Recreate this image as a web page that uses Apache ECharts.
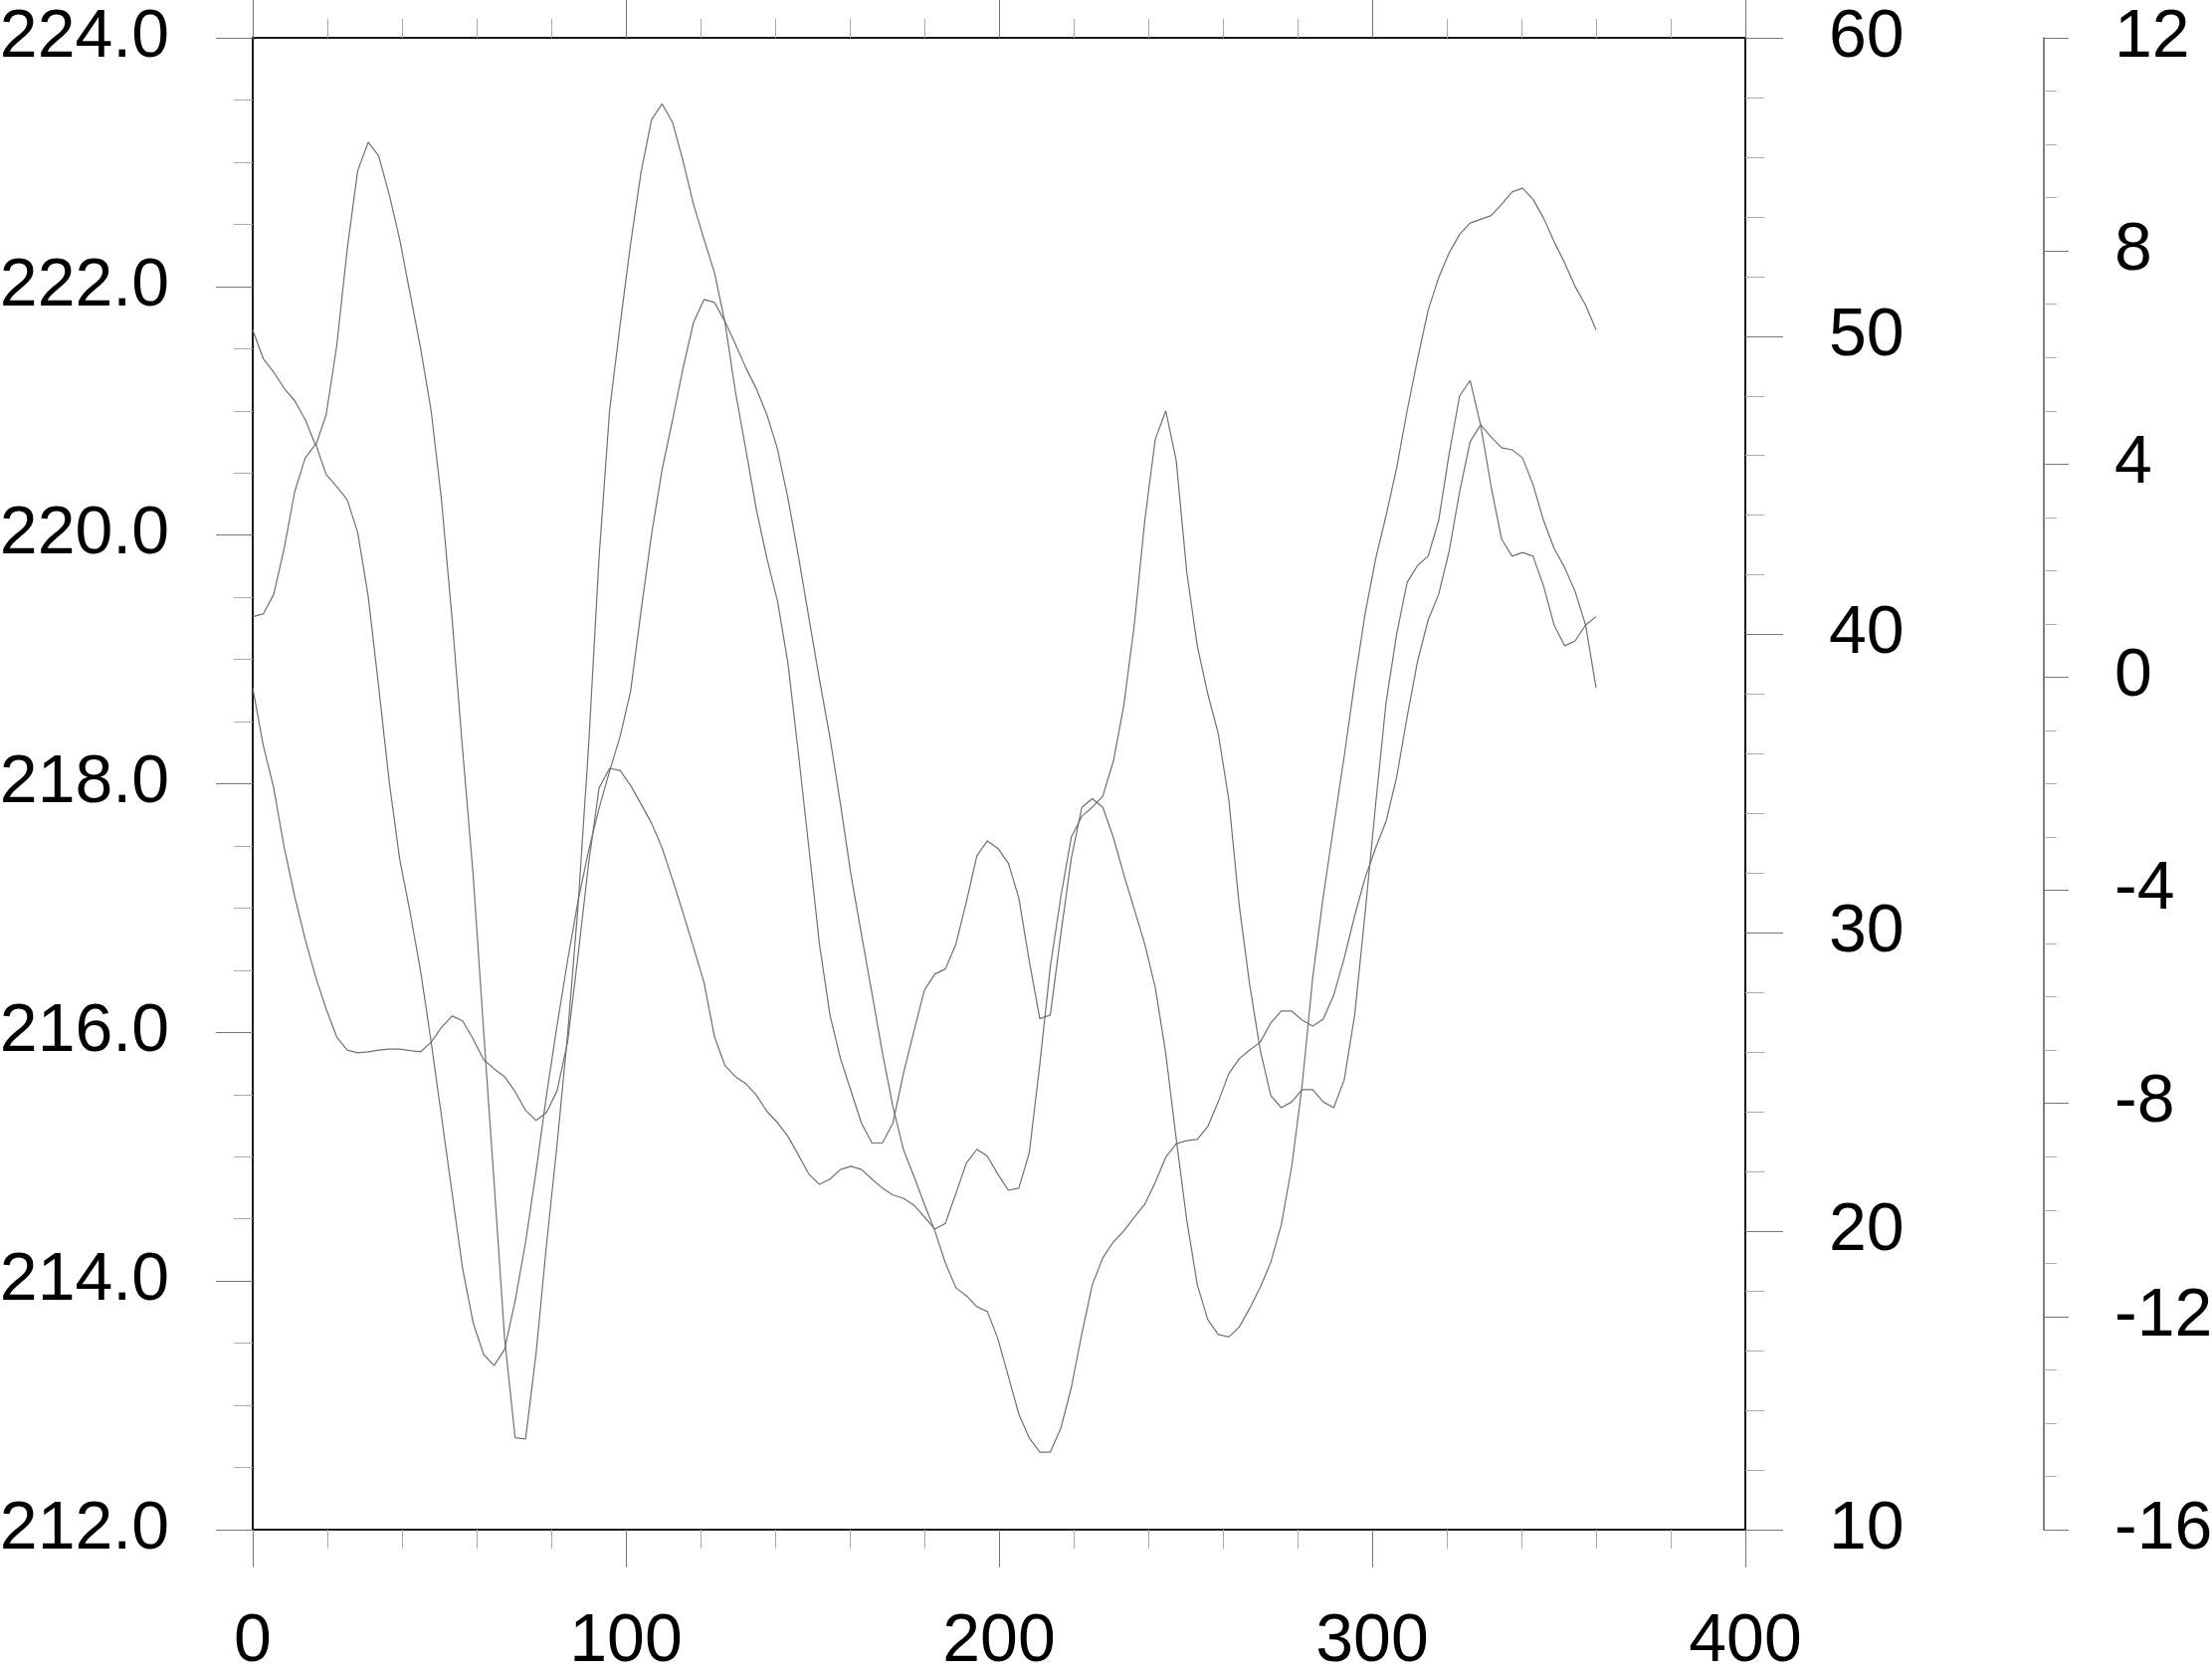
<!DOCTYPE html>
<html>
<head>
<meta charset="utf-8">
<script src="https://cdn.jsdelivr.net/npm/echarts@6/dist/echarts.min.js"></script>
<style>
html,body{margin:0;padding:0;background:#fff;}
#chart{width:2223px;height:1676px;}
</style>
</head>
<body>
<div id="chart"></div>
<script>
// x coordinates (longitude-like grid, 0..360)
const lon = [0,2.8125,5.625,8.4375,11.25,14.0625,16.875,19.6875,22.5,25.3125,28.125,30.9375,33.75,36.5625,39.375,42.1875,45,47.8125,50.625,53.4375,56.25,59.0625,61.875,64.6875,67.5,70.3125,73.125,75.9375,78.75,81.5625,84.375,87.1875,90,92.8125,95.625,98.4375,101.25,104.0625,106.875,109.6875,112.5,115.3125,118.125,120.9375,123.75,126.5625,129.375,132.1875,135,137.8125,140.625,143.4375,146.25,149.0625,151.875,154.6875,157.5,160.3125,163.125,165.9375,168.75,171.5625,174.375,177.1875,180,182.8125,185.625,188.4375,191.25,194.0625,196.875,199.6875,202.5,205.3125,208.125,210.9375,213.75,216.5625,219.375,222.1875,225,227.8125,230.625,233.4375,236.25,239.0625,241.875,244.6875,247.5,250.3125,253.125,255.9375,258.75,261.5625,264.375,267.1875,270,272.8125,275.625,278.4375,281.25,284.0625,286.875,289.6875,292.5,295.3125,298.125,300.9375,303.75,306.5625,309.375,312.1875,315,317.8125,320.625,323.4375,326.25,329.0625,331.875,334.6875,337.5,340.3125,343.125,345.9375,348.75,351.5625,354.375,357.1875,360];

// series 1 (left axis, 212..224)
const seriesLeft = [221.65,221.42,221.31,221.18,221.08,220.93,220.72,220.97,221.52,222.30,
222.93,223.16,223.05,222.74,222.38,221.94,221.50,221.00,220.27,219.32,
218.27,217.27,216.01,214.79,213.54,212.74,212.73,213.42,214.30,215.10,
215.98,217.02,218.30,219.82,221.00,221.69,222.34,222.92,223.34,223.47,
223.32,223.01,222.66,222.38,222.11,221.71,221.15,220.68,220.20,219.81,
219.47,218.97,218.24,217.48,216.71,216.14,215.79,215.53,215.27,215.11,
215.11,215.27,215.67,216.01,216.34,216.47,216.51,216.71,217.05,217.42,
217.54,217.48,217.36,217.08,216.57,216.11,216.14,216.79,217.40,217.81,
217.88,217.81,217.57,217.27,216.99,216.71,216.36,215.83,215.14,214.49,
213.97,213.69,213.57,213.55,213.63,213.78,213.95,214.15,214.45,214.92,
215.58,216.44,217.09,217.66,218.22,218.82,219.37,219.81,220.16,220.54,
221.00,221.42,221.81,222.07,222.27,222.42,222.51,222.54,222.57,222.66,
222.76,222.79,222.70,222.55,222.36,222.19,222.00,221.85,221.65];

// series 2 (right axis, 10..60)
const seriesRight = [40.6,40.69,41.35,42.89,44.79,45.92,46.39,45.36,44.96,44.52,
43.42,41.29,38.25,35.08,32.48,30.68,28.71,26.34,23.81,21.27,
18.74,16.94,15.87,15.50,16.04,17.67,19.64,22.01,24.58,26.91,
29.08,31.08,32.75,34.18,35.42,36.58,38.09,40.79,43.36,45.52,
47.19,48.93,50.46,51.23,51.13,50.49,49.73,48.93,48.23,47.36,
46.22,44.56,42.62,40.55,38.49,36.55,34.32,31.95,29.95,27.98,
25.98,24.18,22.74,21.84,20.91,20.01,18.94,18.11,17.84,17.47,
17.31,16.40,15.14,13.87,13.07,12.60,12.60,13.40,14.77,16.57,
18.21,19.11,19.64,20.01,20.47,20.91,21.64,22.48,22.94,23.04,
23.08,23.51,24.34,25.28,25.78,26.08,26.34,26.98,27.38,27.38,
27.08,26.88,27.11,27.91,29.15,30.58,31.85,32.85,33.75,35.22,
37.25,39.12,40.49,41.35,42.79,44.79,46.46,47.03,46.62,46.26,
46.19,45.92,45.02,43.82,42.89,42.25,41.45,40.32,40.6];

// series 3 (far right axis, -16..12)
const seriesFar = [-0.2,-1.28,-2.08,-3.20,-4.12,-4.92,-5.63,-6.23,-6.75,-7.00,
-7.05,-7.03,-7.00,-6.98,-6.98,-7.01,-7.03,-6.85,-6.57,-6.36,
-6.45,-6.79,-7.18,-7.35,-7.50,-7.78,-8.13,-8.32,-8.17,-7.76,
-6.85,-5.22,-3.50,-2.08,-1.71,-1.75,-2.03,-2.38,-2.74,-3.20,
-3.80,-4.42,-5.07,-5.73,-6.75,-7.29,-7.50,-7.63,-7.85,-8.15,
-8.36,-8.62,-8.97,-9.33,-9.52,-9.42,-9.24,-9.18,-9.24,-9.42,
-9.59,-9.72,-9.78,-9.91,-10.13,-10.36,-10.25,-9.69,-9.12,-8.86,
-8.99,-9.33,-9.63,-9.59,-8.92,-7.26,-5.43,-4.12,-3.00,-2.61,
-2.44,-2.23,-1.58,-0.53,0.98,2.94,4.47,5.00,4.06,1.97,
0.59,-0.31,-1.06,-2.29,-4.29,-5.78,-7.00,-7.85,-8.08,-7.97,
-7.74,-7.74,-7.97,-8.08,-7.56,-6.34,-4.42,-2.38,-0.46,0.81,
1.78,2.10,2.27,2.94,4.19,5.28,5.57,4.73,3.58,2.59,
2.27,2.34,2.27,1.71,0.98,0.59,0.68,0.98,-0.2];

const FONT = 'Liberation Sans, Arial, Helvetica, sans-serif';
const FS = 68;
const frame = {show:true, onZero:false, lineStyle:{color:'#1a1a1a', width:2}};
const majorTick = (len) => ({show:true, inside:false, length:len, lineStyle:{color:'#777', width:1}});
const minorTick = (n, len) => ({show:true, splitNumber:n, length:len, lineStyle:{color:'#aaa', width:1}});
const pairs = (ys) => ys.map((v,i) => [lon[i], v]);

const chart = echarts.init(document.getElementById('chart'), null, {renderer:'canvas'});
chart.setOption({
  animation:false,
  backgroundColor:'#fff',
  grid:{left:254, right:469, top:38, bottom:139, containLabel:false, outerBoundsMode:'none'},
  xAxis:[
    {type:'value', position:'bottom', min:0, max:400, interval:100,
     axisLine:frame, axisTick:majorTick(38), minorTick:minorTick(5,19),
     splitLine:{show:false}, minorSplitLine:{show:false},
     axisLabel:{show:true, fontSize:FS, fontFamily:FONT, color:'#000', margin:79}},
    {type:'value', position:'top', min:0, max:400, interval:100,
     axisLine:frame, axisTick:majorTick(38), minorTick:minorTick(5,19),
     splitLine:{show:false}, axisLabel:{show:false}}
  ],
  yAxis:[
    {type:'value', position:'left', min:212, max:224, interval:2,
     axisLine:frame, axisTick:majorTick(37), minorTick:minorTick(4,19),
     splitLine:{show:false},
     axisLabel:{fontSize:FS, fontFamily:FONT, color:'#000', margin:84,
       formatter:(v)=>v.toFixed(1)}},
    {type:'value', position:'right', min:10, max:60, interval:10,
     axisLine:frame, axisTick:majorTick(38), minorTick:minorTick(5,19),
     splitLine:{show:false},
     axisLabel:{fontSize:FS, fontFamily:FONT, color:'#000', margin:84}},
    {type:'value', position:'right', offset:300, min:-16, max:12, interval:4,
     axisLine:{show:true, onZero:false, lineStyle:{color:'#555', width:1.5}},
     axisTick:majorTick(25), minorTick:minorTick(4,13),
     splitLine:{show:false},
     axisLabel:{fontSize:FS, fontFamily:FONT, color:'#000', margin:71}}
  ],
  series:[
    {type:'line', xAxisIndex:0, yAxisIndex:0, data:pairs(seriesLeft), showSymbol:false,
     lineStyle:{color:'#707070', width:1.2}, silent:true},
    {type:'line', xAxisIndex:0, yAxisIndex:1, data:pairs(seriesRight), showSymbol:false,
     lineStyle:{color:'#707070', width:1.2}, silent:true},
    {type:'line', xAxisIndex:0, yAxisIndex:2, data:pairs(seriesFar), showSymbol:false,
     lineStyle:{color:'#707070', width:1.2}, silent:true}
  ]
});
</script>
</body>
</html>
